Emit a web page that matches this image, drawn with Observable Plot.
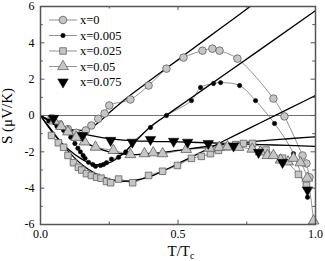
<!DOCTYPE html>
<html><head><meta charset="utf-8">
<script src="https://cdn.jsdelivr.net/npm/d3@7"></script>
<script src="https://cdn.jsdelivr.net/npm/@observablehq/plot@0.6"></script>
<style>body{margin:0;background:#fff} svg{display:block}</style>
</head><body><div id="chart"></div>
<script>
// ---- data ----
const seriesNames = ["x=0", "x=0.005", "x=0.025", "x=0.05", "x=0.075"];

const t0 = [0.04,0.07,0.10,0.13,0.165,0.185,0.21,0.233,0.25,0.327,0.393,0.458,0.52,0.589,0.625,0.651,0.716,0.847,0.887,0.953,0.967,0.978];
const s0 = [-0.15,-0.5,-0.75,-0.95,-0.82,-0.55,-0.18,0.11,0.55,0.88,1.65,2.58,3.19,3.57,3.68,3.57,3.13,0.93,-0.05,-2.2,-2.64,-3.4];

const t005 = [0.03,0.06,0.084,0.11,0.125,0.136,0.145,0.155,0.162,0.175,0.19,0.2,0.218,0.229,0.24,0.258,0.284,0.31,0.335,0.4,0.458,0.549,0.582,0.629,0.655,0.724,0.782,0.851,0.92,0.971];
const s005 = [-0.3,-0.6,-0.82,-1.2,-1.54,-1.8,-2.0,-2.2,-2.36,-2.58,-2.7,-2.8,-2.75,-2.7,-2.6,-2.4,-2.3,-2.0,-1.48,-0.66,0,0.82,1.54,1.76,1.81,1.65,0.82,-0.44,-2.1,-4.5];

const t025 = [0.04,0.065,0.084,0.1,0.12,0.138,0.15,0.167,0.185,0.204,0.22,0.24,0.255,0.284,0.335,0.393,0.444,0.498,0.549,0.585,0.618,0.647,0.68,0.71,0.738,0.771,0.82,0.88,0.938,0.967];
const s025 = [-1.1,-1.5,-1.75,-2.2,-2.6,-2.85,-3.0,-3.2,-3.3,-3.4,-3.45,-3.63,-3.7,-3.5,-3.7,-3.3,-3.07,-2.75,-2.36,-2.25,-2.1,-1.92,-1.72,-1.6,-1.54,-1.54,-1.9,-2.35,-3.24,-3.85];

const t05 = [0.05,0.075,0.1,0.13,0.16,0.2,0.265,0.327,0.378,0.41,0.444,0.53,0.615,0.65,0.68,0.72,0.77,0.8,0.825,0.847,0.873,0.9,0.92,0.945,0.97,0.993];
const s05 = [-0.3,-0.6,-0.9,-1.2,-1.45,-1.74,-1.92,-2.15,-2.1,-2.05,-2.1,-1.87,-1.8,-1.75,-1.72,-1.75,-1.85,-2.0,-2.2,-2.2,-2.45,-2.55,-2.35,-2.6,-3.45,-5.8];

const t075 = [0.047,0.153,0.255,0.334,0.4,0.484,0.535,0.61,0.702,0.793,0.88,0.971];
const s075 = [-0.16,-1.1,-1.37,-1.47,-1.32,-1.42,-1.47,-1.54,-1.68,-2.03,-2.58,-4.1];

// fitted curves (solid black lines)
const fit0T = [0,0.05,0.1,0.15,0.2,0.25,0.3,0.4,0.5,0.6,0.7,0.8];
const fit0S = [0,-0.45,-0.78,-0.82,-0.5,0.15,0.8,1.95,3.07,4.19,5.3,6.42];
const fit005T = [0,0.05,0.1,0.15,0.2,0.25,0.3,0.35,0.4,0.45,0.5,0.6,0.8,1.0];
const fit005S = [0,-1.05,-1.85,-2.4,-2.72,-2.6,-2.1,-1.35,-0.62,-0.07,0.46,1.52,3.64,5.77];
const fit025T = [0,0.05,0.1,0.15,0.2,0.25,0.3,0.35,0.4,0.45,0.5,0.6,0.7,0.8,0.9,1.0];
const fit025S = [0,-1.0,-1.95,-2.7,-3.2,-3.5,-3.62,-3.55,-3.35,-3.02,-2.65,-1.9,-1.15,-0.4,0.35,1.1];
const fit05T = [0,0.05,0.1,0.15,0.2,0.25,0.3,0.35,0.4,0.5,0.6,0.7,0.8,0.9,1.0];
const fit05S = [0,-0.5,-0.98,-1.4,-1.75,-2.0,-2.12,-2.15,-2.1,-1.92,-1.72,-1.55,-1.4,-1.28,-1.17];
const fit075T = [0,0.05,0.1,0.15,0.2,0.25,0.3,0.4,0.5,0.6,0.7,0.8,0.9,1.0];
const fit075S = [0,-0.38,-0.72,-0.98,-1.15,-1.27,-1.35,-1.42,-1.45,-1.5,-1.55,-1.6,-1.65,-1.7];

const xMajor = [0, 0.5, 1.0];
const xMinor = [0.25, 0.75];
const yMajor = [-6, -4, -2, 0, 2, 4, 6];
const yMinor = [-5, -3, -1, 1, 3, 5];

// ---- tables ----
const zip = (name, ts, ss) => ts.map((t, i) => ({series: name, t, S: ss[i]}));
const meas = [
  ...zip(seriesNames[0], t0, s0), ...zip(seriesNames[1], t005, s005),
  ...zip(seriesNames[2], t025, s025), ...zip(seriesNames[3], t05, s05),
  ...zip(seriesNames[4], t075, s075)
];
const fits = [
  ...zip(seriesNames[0], fit0T, fit0S), ...zip(seriesNames[1], fit005T, fit005S),
  ...zip(seriesNames[2], fit025T, fit025S), ...zip(seriesNames[3], fit05T, fit05S),
  ...zip(seriesNames[4], fit075T, fit075S)
];
const of = n => meas.filter(d => d.series === n);

const FONT = "'Liberation Serif', serif";
const grayFill = "#c6c6c6", grayStroke = "#5f5f5f", connCol = "#777", axisCol = "#555";
const styles = {
  "x=0":     {symbol: "circle", r: 3.8, fill: grayFill, stroke: grayStroke, strokeWidth: 0.8},
  "x=0.005": {symbol: "circle", r: 2.2, fill: "black", stroke: "black", strokeWidth: 0.5},
  "x=0.025": {symbol: "square", r: 3.7, fill: grayFill, stroke: grayStroke, strokeWidth: 0.8},
  "x=0.05":  {symbol: "triangle", r: 4.0, fill: grayFill, stroke: grayStroke, strokeWidth: 0.8},
  "x=0.075": {symbol: "triangle", r: 3.9, fill: "black", stroke: "black", strokeWidth: 0.5, rotate: 180}
};
const connected = ["x=0", "x=0.005", "x=0.025", "x=0.05"];

const svg = Plot.plot({
  width: 325, height: 261,
  marginLeft: 40, marginRight: 10, marginTop: 6, marginBottom: 37,
  style: {background: "white", color: "black"},
  x: {domain: [0, 1]},
  y: {domain: [-6, 6]},
  marks: [
    Plot.ruleY([0], {stroke: "#707070", strokeWidth: 1}),
    Plot.line(meas.filter(d => connected.includes(d.series)), {x: "t", y: "S", z: "series", stroke: connCol, strokeWidth: 0.8, curve: "catmull-rom"}),
    Plot.line(fits, {x: "t", y: "S", z: "series", stroke: "black", strokeWidth: 1.3, curve: "monotone-x", clip: true}),
    ...seriesNames.map(n => Plot.dot(of(n), {x: "t", y: "S", ...styles[n]})),
    // inward ticks
    Plot.ruleY(yMajor, {y: d => d, x1: 0, x2: 0.016, stroke: axisCol}),
    Plot.ruleY(yMinor, {y: d => d, x1: 0, x2: 0.01, stroke: axisCol}),
    Plot.ruleY(yMajor, {y: d => d, x1: 0.984, x2: 1, stroke: axisCol}),
    Plot.ruleY(yMinor, {y: d => d, x1: 0.99, x2: 1, stroke: axisCol}),
    Plot.ruleX(xMajor, {x: d => d, y1: -6, y2: -5.77, stroke: axisCol}),
    Plot.ruleX(xMinor, {x: d => d, y1: -6, y2: -5.86, stroke: axisCol}),
    Plot.ruleX(xMajor, {x: d => d, y1: 5.77, y2: 6, stroke: axisCol}),
    Plot.ruleX(xMinor, {x: d => d, y1: 5.86, y2: 6, stroke: axisCol}),
    Plot.frame({stroke: axisCol, strokeWidth: 1.5}),
    Plot.axisY(yMajor, {tickSize: 0, tickPadding: 6, tickFormat: d => String(d), label: null}),
    Plot.axisX(xMajor, {tickSize: 0, tickPadding: 5, tickFormat: d => d.toFixed(1), label: null})
  ]
});
document.getElementById("chart").appendChild(svg);

// ---- legend and axis titles ----
const root = d3.select(svg);
const lg = root.append("g");
seriesNames.forEach((n, i) => {
  const y = 20 + i * 15.5;
  const st = styles[n];
  if (connected.includes(n)) {
    lg.append("line").attr("x1", 49).attr("x2", 77).attr("y1", y).attr("y2", y)
      .attr("stroke", connCol).attr("stroke-width", 0.8);
  }
  const typ = st.symbol === "circle" ? d3.symbolCircle : st.symbol === "square" ? d3.symbolSquare : d3.symbolTriangle;
  lg.append("path")
    .attr("d", d3.symbol(typ, Math.PI * st.r * st.r)())
    .attr("transform", `translate(63,${y})` + (st.rotate ? ` rotate(${st.rotate})` : ""))
    .attr("fill", st.fill).attr("stroke", st.stroke).attr("stroke-width", st.strokeWidth);
  lg.append("text").attr("class", "lgtext").attr("x", 80).attr("y", y).attr("dy", "0.35em")
    .style("text-anchor", "start").text(n);
});

root.append("text").attr("class", "ytitle")
  .attr("transform", "translate(12,116) rotate(-90)")
  .style("text-anchor", "middle")
  .text("S (μV/K)");

const xl = root.append("text").attr("class", "xtitle")
  .attr("x", 181).attr("y", 256)
  .style("text-anchor", "middle");
xl.append("tspan").text("T/T");
xl.append("tspan").attr("dy", 3).text("c");

// force the serif face with inline styles (beats any stylesheet rule)
root.selectAll("text").style("font-family", FONT).style("font-size", "12px").style("fill", "black");
root.selectAll(".lgtext").style("font-size", "12.5px");
root.selectAll(".ytitle, .xtitle").style("font-size", "15px");
xl.select("tspan:last-child").style("font-size", "10px");
</script>
</body></html>
